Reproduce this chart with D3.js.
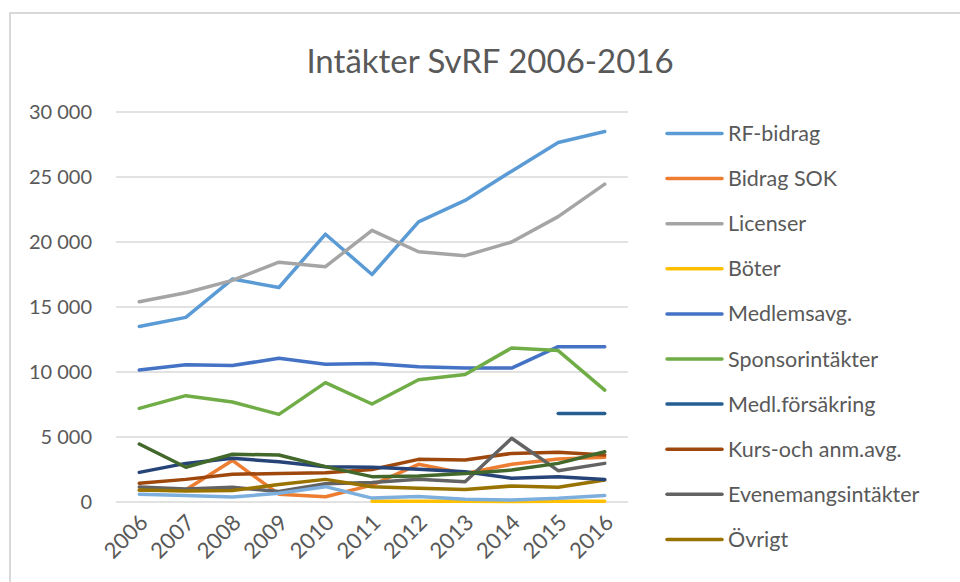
<!DOCTYPE html>
<html>
<head>
<meta charset="utf-8">
<script src="https://cdn.jsdelivr.net/npm/d3@7"></script>
<style>
  body { margin: 0; background: #fff; }
  svg text { font-family: Lato, "Open Sans", sans-serif; fill: #595959; }
</style>
</head>
<body>
<svg id="chart" width="960" height="582"></svg>
<script>
// Intäkter SvRF 2006-2016 (tkr)
const years = ['2006','2007','2008','2009','2010','2011','2012','2013','2014','2015','2016']
const yTicks = [0, 5000, 10000, 15000, 20000, 25000, 30000]

const rfBidrag     = [13500, 14200, 17150, 16500, 20600, 17500, 21550, 23200, 25450, 27650, 28500]
const bidragSOK    = [900, 950, 3200, 600, 400, 1300, 2900, 2200, 2900, 3300, 3450]
const licenser     = [15400, 16100, 17050, 18450, 18100, 20900, 19250, 18950, 20000, 21950, 24450]
const boter        = [null, null, null, null, null, 50, 60, 50, 40, 50, 60]
const medlemsavg   = [10150, 10550, 10500, 11050, 10600, 10650, 10400, 10300, 10300, 11950, 11950]
const sponsor      = [7200, 8180, 7690, 6740, 9180, 7540, 9400, 9800, 11850, 11650, 8600]
const medlForsakr  = [null, null, null, null, null, null, null, null, null, 6800, 6800]
const kursAnm      = [1440, 1740, 2130, 2200, 2250, 2500, 3280, 3230, 3740, 3820, 3620]
const evenemang    = [1150, 1000, 1130, 800, 1400, 1500, 1750, 1560, 4900, 2410, 2970]
const ovrigt       = [920, 850, 880, 1350, 1740, 1180, 1050, 970, 1230, 1130, 1690]
const serie11      = [2280, 2970, 3360, 3100, 2720, 2670, 2510, 2330, 1820, 1950, 1740]
const serie12      = [4460, 2670, 3670, 3615, 2720, 1950, 2000, 2200, 2460, 2970, 3870]
const serie13      = [600, 500, 380, 670, 1180, 300, 420, 210, 150, 280, 500]

const series = [
  {name: 'RF-bidrag', values: rfBidrag, color: '#5B9BD5', legend: true},
  {name: 'Bidrag SOK', values: bidragSOK, color: '#ED7D31', legend: true},
  {name: 'Licenser', values: licenser, color: '#A5A5A5', legend: true},
  {name: 'Böter', values: boter, color: '#FFC000', legend: true},
  {name: 'Medlemsavg.', values: medlemsavg, color: '#4472C4', legend: true},
  {name: 'Sponsorintäkter', values: sponsor, color: '#70AD47', legend: true},
  {name: 'Medl.försäkring', values: medlForsakr, color: '#255E91', legend: true},
  {name: 'Kurs-och anm.avg.', values: kursAnm, color: '#9E480E', legend: true},
  {name: 'Evenemangsintäkter', values: evenemang, color: '#636363', legend: true},
  {name: 'Övrigt', values: ovrigt, color: '#997300', legend: true},
  {name: 'Serie11', values: serie11, color: '#264478', legend: false},
  {name: 'Serie12', values: serie12, color: '#43682B', legend: false},
  {name: 'Serie13', values: serie13, color: '#7CAFDD', legend: false}
]

let svg = d3.select('#chart')
let plot = {left: 116, right: 628, top: 112, bottom: 502}

// chart frame, runs off the right and bottom edge
svg.append('rect')
   .attr('x', 10).attr('y', 13)
   .attr('width', 1000).attr('height', 620)
   .style('fill', 'none').style('stroke', '#d9d9d9').style('stroke-width', 2)

svg.append('text')
   .attr('x', 490).attr('y', 73)
   .attr('text-anchor', 'middle')
   .style('font-size', '33px')
   .text('Intäkter SvRF 2006-2016')

let x = d3.scaleBand().domain(years).range([plot.left, plot.right])
let y = d3.scaleLinear().domain([0, 30000]).range([plot.bottom, plot.top])

let sv = d3.formatLocale({decimal: ',', thousands: ' ', grouping: [3], currency: ['', ' kr']})
let fmt = sv.format(',d')

// gridlines
svg.append('g')
   .selectAll('line')
   .data(yTicks)
   .enter()
   .append('line')
     .attr('x1', plot.left).attr('x2', plot.right)
     .attr('y1', d => y(d)).attr('y2', d => y(d))
     .style('stroke', '#d9d9d9').style('stroke-width', 1.3)

let yAxis = svg.append('g')
   .attr('transform', 'translate(' + plot.left + ',0)')
   .call(d3.axisLeft(y).tickValues(yTicks).tickFormat(fmt).tickSize(0).tickPadding(24))
yAxis.select('.domain').remove()
yAxis.selectAll('text').style('font-size', '20px').style('fill', '#595959').style('font-family', 'Lato')

let xAxis = svg.append('g')
   .attr('transform', 'translate(0,' + plot.bottom + ')')
   .call(d3.axisBottom(x).tickSize(0))
xAxis.select('.domain').remove()
xAxis.selectAll('text')
   .style('font-size', '22px').style('fill', '#595959').style('font-family', 'Lato')
   .attr('text-anchor', 'end')
   .attr('dy', null).attr('y', 0)
   .attr('transform', 'translate(10,22) rotate(-45)')

let line = d3.line()
   .defined(d => d != null)
   .x((d, i) => x(years[i]) + x.bandwidth() / 2)
   .y(d => y(d))

svg.append('g')
   .selectAll('path')
   .data(series)
   .enter()
   .append('path')
     .attr('d', d => line(d.values))
     .style('fill', 'none')
     .style('stroke', d => d.color)
     .style('stroke-width', 3.5)
     .style('stroke-linecap', 'round')
     .style('stroke-linejoin', 'round')

// legend (only the first ten fit in the frame)
let legend = svg.append('g')
   .selectAll('g')
   .data(series.filter(s => s.legend))
   .enter()
   .append('g')
     .attr('transform', (d, i) => 'translate(667,' + (133.5 + i * 45.1) + ')')

legend.append('line')
   .attr('x1', 0).attr('x2', 55)
   .style('stroke', d => d.color).style('stroke-width', 3.5).style('stroke-linecap', 'round')

legend.append('text')
   .attr('x', 61).attr('dy', '0.35em')
   .style('font-size', '21.5px')
   .text(d => d.name)
</script>
</body>
</html>
